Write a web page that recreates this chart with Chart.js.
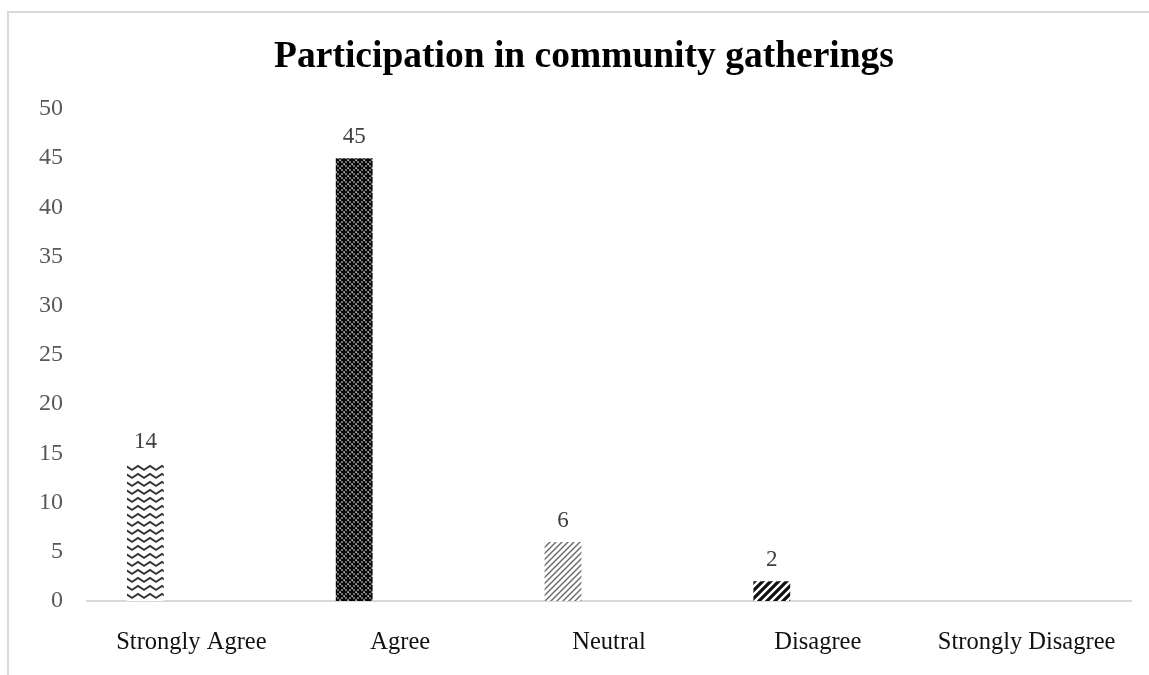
<!DOCTYPE html>
<html>
<head>
<meta charset="utf-8">
<script src="https://cdn.jsdelivr.net/npm/chart.js@4.4.1/dist/chart.umd.min.js"></script>
<style>
  html, body { margin: 0; padding: 0; background: #ffffff; overflow: hidden; }
  #frame {
    position: absolute; left: 7px; top: 11px; width: 1400px; height: 900px;
    border: 2px solid #d9d9d9; box-sizing: border-box;
  }
  #wrap { position: absolute; left: 0; top: 0; width: 1149px; height: 675px; }
</style>
</head>
<body>
<div id="frame"></div>
<div id="wrap"><canvas id="barChart" width="1149" height="675"></canvas></div>
<script>
const categories = ['Strongly Agree', 'Agree', 'Neutral', 'Disagree', 'Strongly Disagree'];
const responses = [14, 45, 6, 2, null];
const emptySlot = [null, null, null, null, null];
const yMax = 50;
const yStep = 5;

const serif = `'Liberation Serif', 'DejaVu Serif', serif`;

function makeTile(w, h, draw) {
  const c = document.createElement('canvas');
  c.width = w;
  c.height = h;
  const g = c.getContext('2d');
  draw(g, w, h);
  return c;
}

// excel-ish fill patterns, one per category
function getPatterns(ctx) {
  const wave = makeTile(12, 8, (g, w, h) => {
    g.fillStyle = '#ffffff';
    g.fillRect(0, 0, w, h);
    g.strokeStyle = '#333333';
    g.lineWidth = 2;
    g.beginPath();
    g.moveTo(-1, 6.5);
    g.lineTo(6, 2);
    g.lineTo(13, 6.5);
    g.stroke();
  });

  const sphere = makeTile(8, 8, (g, w, h) => {
    g.fillStyle = '#6f6f6f';
    g.fillRect(0, 0, w, h);
    g.fillStyle = '#0a0a0a';
    // plus at the centre
    g.fillRect(3, 1, 2, 6);
    g.fillRect(1, 3, 6, 2);
    // plus wrapped on the corners
    g.fillRect(0, 0, 1, 3); g.fillRect(7, 0, 1, 3);
    g.fillRect(0, 5, 1, 3); g.fillRect(7, 5, 1, 3);
    g.fillRect(0, 0, 3, 1); g.fillRect(5, 0, 3, 1);
    g.fillRect(0, 7, 3, 1); g.fillRect(5, 7, 3, 1);
    g.fillStyle = '#c8c8c8';
    g.fillRect(4, 0, 1, 1);
    g.fillRect(0, 4, 1, 1);
  });

  const lightDiag = makeTile(6, 6, (g, w, h) => {
    g.fillStyle = '#ffffff';
    g.fillRect(0, 0, w, h);
    g.strokeStyle = '#6e6e6e';
    g.lineWidth = 1.5;
    g.beginPath();
    g.moveTo(-1, h + 1); g.lineTo(w + 1, -1);
    g.moveTo(-1, 1); g.lineTo(1, -1);
    g.moveTo(w - 1, h + 1); g.lineTo(w + 1, h - 1);
    g.stroke();
  });

  const darkDiag = makeTile(8, 8, (g, w, h) => {
    g.fillStyle = '#ffffff';
    g.fillRect(0, 0, w, h);
    g.strokeStyle = '#111111';
    g.lineWidth = 3.2;
    g.beginPath();
    g.moveTo(-2, h + 2); g.lineTo(w + 2, -2);
    g.moveTo(-2, 2); g.lineTo(2, -2);
    g.moveTo(w - 2, h + 2); g.lineTo(w + 2, h - 2);
    g.stroke();
  });

  return [wave, sphere, lightDiag, darkDiag, wave].map(t => ctx.createPattern(t, 'repeat'));
}

const valueLabels = {
  id: 'valueLabels',
  afterDatasetsDraw(chart) {
    const ctx = chart.ctx;
    const meta = chart.getDatasetMeta(0);
    ctx.save();
    ctx.font = `23px ${serif}`;
    ctx.fillStyle = '#404040';
    ctx.textAlign = 'center';
    ctx.textBaseline = 'bottom';
    meta.data.forEach((bar, i) => {
      const v = responses[i];
      if (v === null || v === undefined) return;
      ctx.fillText(String(v), bar.x, bar.y - 10);
    });
    ctx.restore();
  }
};

window.addEventListener('DOMContentLoaded', () => {
  const ctx = document.getElementById('barChart').getContext('2d');
  const patterns = getPatterns(ctx);

  const data = {
    labels: categories,
    datasets: [
      { data: responses, backgroundColor: patterns, borderWidth: 0 },
      { data: emptySlot, backgroundColor: 'transparent', borderWidth: 0 },
      { data: emptySlot, backgroundColor: 'transparent', borderWidth: 0 }
    ]
  };

  new Chart(ctx, {
    type: 'bar',
    data: data,
    options: {
      responsive: false,
      animation: false,
      categoryPercentage: 0.661,
      barPercentage: 0.8,
      // left padding keeps the title centred on the framed chart
      layout: { padding: { left: 37, right: 18, top: 0, bottom: 0 } },
      plugins: {
        legend: { display: false },
        tooltip: { enabled: false },
        title: {
          display: true,
          text: 'Participation in community gatherings',
          color: '#000000',
          font: { family: serif, size: 37.5, weight: 'bold' },
          padding: { top: 35, bottom: 29 }
        }
      },
      scales: {
        x: {
          grid: { display: false, drawTicks: false },
          border: { display: true, color: '#d9d9d9', width: 2 },
          ticks: {
            color: '#111111',
            font: { family: serif, size: 24.5 },
            padding: 27,
            maxRotation: 0
          },
          afterFit(scale) { scale.height = 74; }
        },
        y: {
          min: 0,
          max: yMax,
          grid: { display: false, drawTicks: false },
          border: { display: false },
          ticks: {
            stepSize: yStep,
            color: '#595959',
            font: { family: serif, size: 24 },
            padding: 24
          },
          afterFit(scale) { scale.width = 50; }
        }
      }
    },
    plugins: [valueLabels]
  });
});
</script>
</body>
</html>
